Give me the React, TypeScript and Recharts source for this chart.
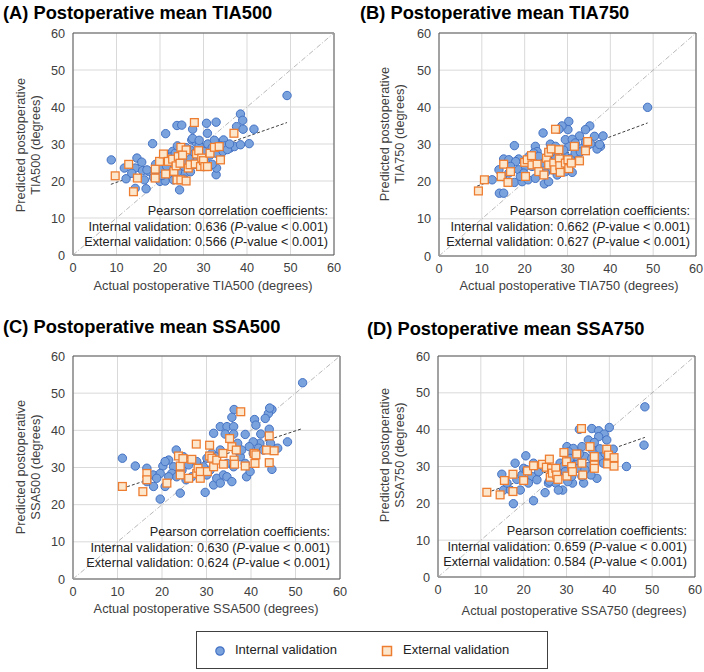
import React from 'react'
import { ScatterChart, Scatter, XAxis, YAxis, CartesianGrid, ReferenceLine, ReferenceArea } from 'recharts'

const FONT = '"Liberation Sans", Arial, sans-serif'
const ticks = [0, 10, 20, 30, 40, 50, 60]
const identity = [{ x: 0, y: 0 }, { x: 60, y: 60 }]

// [actual, predicted] pairs
const tia500Internal = [
  [8.8, 25.7], [12.2, 20.6], [11.8, 23.5], [14.7, 26.2], [15.8, 25.1], [14.3, 23.5], [13.5, 22.1], [14.3, 18.0],
  [16.4, 20.3], [16.8, 17.9], [17.4, 22.6], [18.3, 30.1], [19.3, 23.0], [20.0, 19.9], [21.2, 20.0], [21.3, 32.8],
  [22.3, 24.8], [22.9, 28.0], [23.9, 35.0], [25.0, 35.1], [24.5, 17.6], [23.1, 20.3], [25.8, 22.1], [26.5, 23.9],
  [26.9, 28.4], [27.3, 31.1], [27.5, 34.0], [28.4, 30.2], [29.2, 27.5], [30.0, 23.9], [30.7, 35.6], [30.9, 32.9],
  [32.9, 35.9], [32.9, 21.7], [33.0, 23.5], [33.4, 30.2], [34.6, 31.1], [33.9, 26.6], [36.1, 28.9], [37.1, 29.3],
  [37.6, 34.7], [38.5, 29.8], [38.5, 38.1], [39.0, 36.4], [39.1, 34.0], [40.5, 30.1], [41.6, 34.0], [49.2, 43.1],
  [16.0, 22.8], [17.0, 23.0], [18.5, 21.0], [19.0, 24.5], [20.5, 21.5], [21.0, 25.5], [22.0, 22.0], [22.5, 26.5],
  [23.0, 24.0], [23.5, 27.5], [24.0, 22.5], [24.5, 25.0], [25.0, 27.0], [25.5, 24.0], [26.0, 25.5], [26.0, 29.0],
  [27.0, 26.0], [27.0, 22.5], [28.0, 24.5], [28.0, 27.5], [28.5, 25.5], [29.0, 29.5], [29.5, 26.0], [30.0, 28.0],
  [30.5, 25.0], [31.0, 30.0], [31.5, 27.0], [32.0, 29.0], [32.0, 24.5], [33.0, 27.5], [34.0, 29.5], [34.5, 28.0],
  [35.0, 29.5], [35.5, 28.5], [36.0, 30.0], [20.0, 23.5], [21.5, 24.0], [25.5, 20.5], [27.5, 31.5], [29.0, 31.0],
  [32.5, 31.0], [24.0, 29.5],
]
const tia500External = [
  [9.7, 21.4], [12.8, 24.5], [13.9, 17.1], [14.8, 20.8], [18.9, 23.2], [18.9, 20.8], [19.9, 25.3], [20.8, 27.3],
  [21.3, 21.9], [21.9, 25.3], [22.9, 25.9], [23.2, 22.6], [23.7, 24.1], [23.9, 20.3], [24.2, 26.6], [24.6, 24.8],
  [24.8, 29.1], [24.8, 20.3], [26.0, 20.0], [26.0, 28.4], [26.5, 23.5], [26.9, 24.4], [27.9, 35.8], [28.1, 24.6],
  [28.4, 27.3], [28.9, 28.2], [29.3, 23.9], [29.6, 26.2], [30.0, 25.5], [30.3, 23.9], [30.9, 23.9], [31.5, 27.5],
  [32.5, 29.1], [33.6, 29.3], [33.9, 25.7], [37.0, 32.9], [25.2, 27.0],
]
const tia500Trend = [{ x: 8.7, y: 19.1 }, { x: 49.2, y: 35.8 }]

const tia750Internal = [
  [48.7, 40.0], [30.3, 36.2], [30.1, 34.0], [28.7, 35.0], [28.0, 34.1], [35.2, 35.0], [34.2, 34.0], [32.8, 32.3],
  [24.3, 33.1], [17.6, 29.7], [26.0, 30.1], [22.5, 29.5], [22.9, 28.1], [25.6, 28.1], [30.3, 29.5], [29.5, 31.3],
  [31.1, 31.4], [31.8, 30.4], [36.3, 32.2], [38.3, 32.3], [37.7, 29.5], [36.9, 28.8], [34.5, 29.5], [33.4, 29.0],
  [15.1, 26.1], [16.3, 25.9], [18.6, 26.1], [17.9, 25.4], [14.0, 23.2], [14.1, 16.9], [15.1, 16.9], [12.4, 20.5],
  [14.8, 21.4], [17.6, 19.8], [19.4, 20.0], [20.8, 20.5], [22.5, 20.9], [24.6, 19.4], [25.6, 20.0], [27.6, 21.8],
  [29.5, 22.7], [31.1, 22.5], [18.6, 23.2], [20.2, 24.1], [21.7, 24.1], [23.3, 23.6], [24.1, 25.0], [24.8, 26.3],
  [26.4, 25.4], [27.2, 26.8], [28.3, 25.0], [29.5, 26.8], [30.7, 26.3], [31.8, 27.7], [32.6, 25.9], [26.4, 23.2],
  [28.0, 24.1], [21.0, 26.8], [22.1, 27.7], [23.3, 26.8], [19.8, 22.3], [16.7, 24.1], [19.0, 21.4], [24.8, 22.3],
  [29.1, 28.5], [27.2, 29.5], [26.0, 27.7], [34.2, 30.6], [35.4, 30.2], [16.3, 22.3], [37.5, 30.0], [33.0, 28.0],
]
const tia750External = [
  [9.2, 17.5], [10.6, 20.5], [14.5, 21.4], [15.1, 24.7], [16.1, 19.8], [16.7, 22.7], [20.0, 25.2], [20.2, 21.4],
  [20.6, 25.9], [21.6, 27.0], [21.7, 24.5], [22.9, 24.7], [23.3, 22.7], [24.5, 21.8], [25.1, 26.3], [25.6, 27.9],
  [25.6, 24.5], [26.2, 28.8], [26.8, 25.0], [27.0, 23.2], [27.2, 34.1], [28.0, 28.6], [28.1, 26.1], [28.2, 24.3],
  [28.3, 22.5], [29.5, 25.0], [30.1, 25.9], [30.3, 23.5], [30.9, 25.0], [31.6, 29.5], [32.8, 25.6], [34.2, 28.3],
  [34.7, 30.8],
]
const tia750Trend = [{ x: 8.9, y: 18.8 }, { x: 48.7, y: 35.8 }]

const ssa500Internal = [
  [51.6, 52.8], [36.2, 45.6], [35.7, 43.5], [44.7, 45.6], [43.9, 44.5], [43.2, 43.2], [40.8, 42.9], [41.1, 41.4],
  [33.1, 41.0], [34.6, 41.0], [36.1, 41.0], [31.6, 39.2], [34.2, 39.0], [36.1, 39.0], [38.7, 38.9], [42.2, 39.0],
  [44.1, 40.3], [48.2, 36.9], [44.4, 36.5], [42.0, 36.5], [40.5, 36.9], [39.6, 35.6], [44.7, 29.5], [39.0, 27.5],
  [39.8, 28.9], [11.1, 32.5], [14.0, 30.4], [16.6, 29.8], [16.6, 26.2], [18.0, 28.0], [18.1, 24.9], [19.6, 21.5],
  [20.2, 30.4], [20.7, 24.9], [21.5, 32.0], [23.2, 34.7], [24.1, 23.1], [24.8, 32.9], [25.4, 26.7], [26.0, 30.7],
  [27.8, 31.6], [28.6, 29.3], [29.7, 23.3], [31.6, 25.3], [32.3, 27.1], [33.1, 25.8], [33.8, 28.0], [34.6, 27.5],
  [35.7, 26.2], [34.6, 31.1], [36.1, 30.2], [37.6, 32.9], [38.7, 31.1], [40.5, 33.8], [41.7, 35.2], [42.8, 34.7],
  [46.0, 35.2], [31.2, 33.8], [30.1, 32.5], [32.3, 32.9], [22.6, 30.2], [22.2, 28.4], [23.3, 27.5], [26.7, 27.5],
  [27.8, 28.4], [29.3, 30.2], [30.1, 28.0], [30.8, 29.3], [24.5, 29.3], [21.5, 27.5], [19.6, 28.4], [18.8, 27.1],
  [36.8, 34.7], [37.9, 34.7], [33.1, 34.7], [20.7, 31.6], [44.2, 46.0], [37.0, 36.5],
]
const ssa500External = [
  [11.1, 24.9], [15.7, 23.5], [16.6, 28.4], [16.6, 26.7], [21.1, 25.8], [23.7, 33.1], [24.1, 30.4], [24.1, 28.0],
  [24.7, 32.4], [26.0, 27.1], [26.7, 32.2], [27.7, 36.3], [27.8, 28.4], [28.1, 29.8], [28.6, 27.1], [28.6, 28.9],
  [30.2, 28.9], [30.7, 36.0], [30.7, 33.1], [31.2, 32.5], [31.6, 30.2], [32.3, 32.0], [33.7, 33.8], [33.8, 30.9],
  [35.2, 37.8], [35.7, 35.6], [36.2, 32.0], [36.3, 30.9], [36.7, 34.7], [37.7, 45.0], [38.7, 30.4], [40.7, 33.8],
  [40.9, 31.1], [41.1, 33.4], [43.5, 34.7], [44.1, 38.5], [44.1, 31.3], [45.2, 34.5],
]
const ssa500Trend = [{ x: 11.1, y: 24.4 }, { x: 51.6, y: 40.5 }]

const ssa750Internal = [
  [48.3, 46.2], [48.1, 35.8], [40.0, 40.6], [35.9, 40.3], [33.0, 40.1], [37.5, 39.7], [38.8, 38.8], [39.4, 37.2],
  [37.5, 38.1], [35.1, 37.2], [30.1, 35.4], [31.6, 34.9], [33.6, 35.4], [36.0, 34.5], [40.9, 34.7], [44.0, 30.0],
  [37.1, 26.8], [34.0, 25.5], [31.4, 25.5], [29.1, 23.6], [25.0, 22.9], [22.3, 20.7], [17.6, 19.9], [18.0, 30.9],
  [20.5, 32.9], [14.9, 27.9], [15.3, 23.6], [16.9, 23.6], [19.2, 23.6], [18.4, 26.5], [19.6, 27.7], [20.0, 29.5],
  [20.7, 29.1], [21.9, 27.3], [23.1, 26.4], [23.5, 28.6], [25.8, 25.5], [26.6, 27.3], [27.5, 25.5], [28.1, 28.2],
  [28.5, 30.9], [29.3, 30.0], [30.3, 25.9], [31.2, 27.3], [31.2, 30.4], [32.8, 31.3], [32.8, 29.5], [34.3, 32.7],
  [35.1, 30.0], [35.7, 27.7], [36.7, 31.3], [37.8, 32.7], [38.6, 30.9], [39.0, 33.6], [39.8, 32.2], [30.5, 34.0],
  [32.0, 32.7], [34.3, 29.1], [24.6, 30.0], [22.3, 30.9], [27.0, 29.1], [33.6, 27.3], [29.7, 28.6], [30.8, 32.2],
  [35.9, 32.2], [16.1, 25.5], [21.1, 25.5], [28.1, 23.6], [26.0, 26.0], [33.0, 33.5], [37.8, 34.8], [36.5, 36.5],
]
const ssa750External = [
  [11.4, 23.0], [14.5, 22.3], [15.5, 26.2], [17.5, 23.2], [17.5, 27.9], [20.0, 26.2], [20.9, 28.8], [22.3, 30.2],
  [24.4, 30.6], [25.3, 29.8], [26.0, 32.0], [26.2, 27.1], [26.5, 29.5], [26.7, 28.2], [27.5, 29.5], [27.7, 27.7],
  [28.0, 26.5], [29.4, 33.8], [30.0, 31.3], [30.1, 27.4], [31.2, 30.0], [31.4, 28.6], [32.4, 33.4], [33.5, 40.3],
  [33.6, 30.9], [33.8, 27.7], [35.5, 35.4], [36.5, 32.7], [36.5, 30.4], [36.5, 29.5], [39.4, 34.7], [39.8, 33.1],
  [39.6, 30.7], [41.1, 32.4], [41.1, 30.1],
]
const ssa750Trend = [{ x: 11.4, y: 22.9 }, { x: 48.3, y: 37.9 }]

const toPts = (arr: number[][]) => arr.map(([x, y]) => ({ x, y }))

const Dot = (p: any) => <circle cx={p.cx} cy={p.cy} r={4.2} fill="#7AA3DD" stroke="#4472C4" strokeWidth={1} />
const Sq = (p: any) => <rect x={p.cx - 3.9} y={p.cy - 3.9} width={7.8} height={7.8} fill="#FDE7CC" stroke="#ED7D31" strokeWidth={1.3} />

interface PanelProps {
  title: string; tl: [number, number]
  plot: [number, number, number, number]
  internal: number[][]; external: number[][]; trend: { x: number; y: number }[]
  yTitle: [string, string]; yt: [number, number]
  xTitle: string; xt: [number, number]
  r1: string; r2: string; ann: [number, number]
}

function Panel(p: PanelProps) {
  const [pl, pt, pr, pb] = p.plot
  const w = pr - pl + 45
  const h = pb - pt + 40
  const txt: React.CSSProperties = { position: 'absolute', fontFamily: FONT, color: '#404040', whiteSpace: 'nowrap' }
  return (
    <>
      <div style={{ ...txt, left: p.tl[0], top: p.tl[1], fontSize: 18.3, fontWeight: 700, color: '#000', lineHeight: '20px' }}>{p.title}</div>
      <div style={{ position: 'absolute', left: pl - 35, top: pt - 10 }}>
        <ScatterChart width={w} height={h} margin={{ top: 10, right: 10, left: 5, bottom: 8 }}>
          <CartesianGrid stroke="#D9D9D9" />
          <XAxis type="number" dataKey="x" domain={[0, 60]} ticks={ticks} height={22} axisLine={false} tickLine={false}
            tick={{ fill: '#404040', fontSize: 12.7, fontFamily: FONT }} />
          <YAxis type="number" dataKey="y" domain={[0, 60]} ticks={ticks} width={30} axisLine={false} tickLine={false}
            tick={{ fill: '#404040', fontSize: 12.7, fontFamily: FONT }} />
          <ReferenceLine segment={identity} stroke="#A6A6A6" strokeWidth={0.8} strokeDasharray="5 2 1 2" />
          <Scatter data={toPts(p.internal)} shape={Dot} isAnimationActive={false} />
          <Scatter data={toPts(p.external)} shape={Sq} isAnimationActive={false} />
          <ReferenceLine segment={p.trend} stroke="#404040" strokeWidth={1} strokeDasharray="3 2" />
          <ReferenceArea x1={0} x2={60} y1={0} y2={60} fill="none" stroke="#595959" strokeWidth={1} />
        </ScatterChart>
      </div>
      <div style={{ ...txt, left: p.yt[0], top: p.yt[1], fontSize: 12.8, lineHeight: '14.5px', textAlign: 'center',
        transform: 'translate(-50%, -50%) rotate(-90deg)' }}>
        {p.yTitle[0]}<br />{p.yTitle[1]}
      </div>
      <div style={{ ...txt, left: p.xt[0], top: p.xt[1], fontSize: 12.8, lineHeight: '15px', transform: 'translate(-50%, -50%)' }}>{p.xTitle}</div>
      <div style={{ ...txt, right: 704 - p.ann[0], top: p.ann[1] - 7.75, fontSize: 12.7, lineHeight: '15.5px', textAlign: 'right', color: '#222' }}>
        Pearson correlation coefficients:<br />
        Internal validation: {p.r1} (<i>P</i>-value &lt; 0.001)<br />
        External validation: {p.r2} (<i>P</i>-value &lt; 0.001)
      </div>
    </>
  )
}

export default function App() {
  return (
    <div style={{ position: 'absolute', left: 0, top: 0, width: 704, height: 672, background: '#fff', overflow: 'hidden' }}>
      <Panel title="(A) Postoperative mean TIA500" tl={[3, 3]} plot={[73, 33, 334, 255]}
        internal={tia500Internal} external={tia500External} trend={tia500Trend}
        yTitle={['Predicted postoperative', 'TIA500 (degrees)']} yt={[28, 145]}
        xTitle="Actual postoperative TIA500 (degrees)" xt={[203, 285]} r1="0.636" r2="0.566" ann={[328, 212]} />
      <Panel title="(B) Postoperative mean TIA750" tl={[360, 3]} plot={[439, 33, 696, 256]}
        internal={tia750Internal} external={tia750External} trend={tia750Trend}
        yTitle={['Predicted postoperative', 'TIA750 (degrees)']} yt={[392, 134]}
        xTitle="Actual postoperative TIA750 (degrees)" xt={[569, 285]} r1="0.662" r2="0.627" ann={[690, 212]} />
      <Panel title="(C) Postoperative mean SSA500" tl={[3, 317]} plot={[73, 356, 340, 579]}
        internal={ssa500Internal} external={ssa500External} trend={ssa500Trend}
        yTitle={['Predicted postoperative', 'SSA500 (degrees)']} yt={[28, 467]}
        xTitle="Actual postoperative SSA500 (degrees)" xt={[206, 608]} r1="0.630" r2="0.624" ann={[330, 533]} />
      <Panel title="(D) Postoperative mean SSA750" tl={[367, 319]} plot={[438, 356, 695, 577]}
        internal={ssa750Internal} external={ssa750External} trend={ssa750Trend}
        yTitle={['Predicted postoperative', 'SSA750 (degrees)']} yt={[392, 455]}
        xTitle="Actual postoperative SSA750 (degrees)" xt={[574, 610]} r1="0.659" r2="0.584" ann={[687, 532]} />
      <div style={{ position: 'absolute', left: 196, top: 631, width: 350, height: 36, border: '1px solid #404040',
        fontFamily: FONT, fontSize: 13, color: '#222' }}>
        <svg style={{ position: 'absolute', left: 17, top: 13 }} width={12} height={12}>
          <circle cx={6} cy={6} r={4.2} fill="#7AA3DD" stroke="#4472C4" strokeWidth={1.2} />
        </svg>
        <span style={{ position: 'absolute', left: 38, top: 10, lineHeight: '16px' }}>Internal validation</span>
        <svg style={{ position: 'absolute', left: 184, top: 13 }} width={12} height={12}>
          <rect x={1.5} y={1.5} width={9} height={9} fill="#FDE7CC" stroke="#ED7D31" strokeWidth={1.5} />
        </svg>
        <span style={{ position: 'absolute', left: 206, top: 10, lineHeight: '16px' }}>External validation</span>
      </div>
    </div>
  )
}
